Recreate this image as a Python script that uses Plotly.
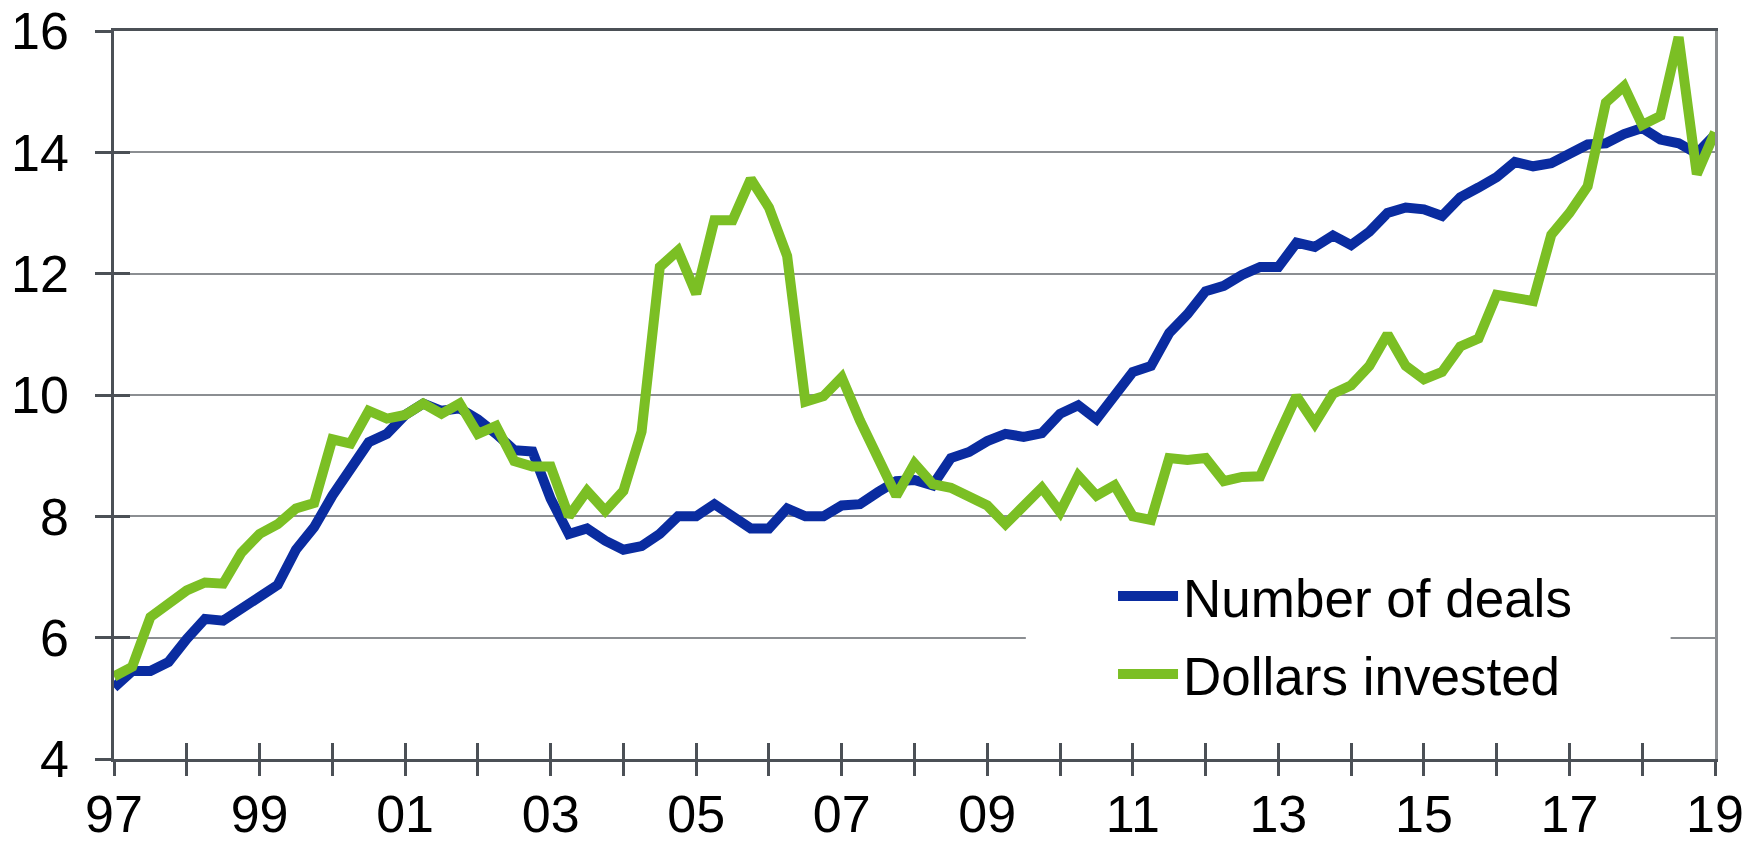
import plotly.graph_objects as go

# quarterly, 1997Q1 .. 2019Q1
deals = [
    5.18, 5.45, 5.45, 5.60,
    5.98, 6.31, 6.28, 6.47,
    6.69, 6.87, 7.45, 7.82,
    8.34, 8.78, 9.22, 9.36,
    9.67, 9.86, 9.74, 9.78,
    9.60, 9.36, 9.09, 9.07,
    8.29, 7.71, 7.80, 7.60,
    7.45, 7.51, 7.71, 8.00,
    8.00, 8.20, 8.00, 7.80,
    7.80, 8.13, 8.00, 8.00,
    8.18, 8.20, 8.40, 8.58,
    8.60, 8.51, 8.96, 9.06,
    9.24, 9.36, 9.31, 9.37,
    9.69, 9.83, 9.60, 9.98,
    10.38, 10.48, 11.02, 11.33,
    11.71, 11.80, 11.98, 12.11,
    12.11, 12.51, 12.44, 12.63,
    12.47, 12.69, 13.00, 13.09,
    13.06, 12.95, 13.26, 13.42,
    13.59, 13.84, 13.77, 13.82,
    13.98, 14.13, 14.15, 14.30,
    14.40, 14.21, 14.15, 13.98,
    14.29,
]

dollars = [
    5.36, 5.52, 6.34, 6.56,
    6.78, 6.91, 6.89, 7.40,
    7.71, 7.87, 8.13, 8.22,
    9.27, 9.20, 9.74, 9.61,
    9.67, 9.86, 9.69, 9.86,
    9.36, 9.49, 8.91, 8.82,
    8.82, 8.00, 8.42, 8.09,
    8.42, 9.40, 12.11, 12.38,
    11.67, 12.88, 12.88, 13.56,
    13.09, 12.29, 9.89, 9.98,
    10.29, 9.58, 9.00, 8.34,
    8.87, 8.53, 8.47, 8.34,
    8.18, 7.87, 8.16, 8.47,
    8.07, 8.67, 8.34, 8.51,
    8.00, 7.94, 8.96, 8.93,
    8.96, 8.58, 8.65, 8.66,
    9.33, 9.98, 9.53, 10.02,
    10.16, 10.48, 11.00, 10.48,
    10.26, 10.38, 10.80, 10.93,
    11.65, 11.60, 11.55, 12.64,
    13.00, 13.44, 14.82, 15.09,
    14.45, 14.60, 15.90, 13.64,
    14.33,
]

years = list(range(1997, 2020))
year_labels = ["97", "", "99", "", "01", "", "03", "", "05", "", "07", "",
               "09", "", "11", "", "13", "", "15", "", "17", "", "19"]
y_ticks = [4, 6, 8, 10, 12, 14, 16]

x = [1997 + i / 4 for i in range(len(deals))]

BLUE = "#0a2ca0"
GREEN = "#7bbf24"
AXIS = "#4b5056"
GRID = "#8b8e92"
FONT = "Liberation Sans, Arial, sans-serif"

fig = go.Figure()
fig.add_trace(go.Scatter(x=x, y=deals, mode="lines", name="Number of deals",
                         legendgroup="deals", line=dict(color=BLUE, width=10)))
fig.add_trace(go.Scatter(x=x, y=dollars, mode="lines", name="Dollars invested",
                         legendgroup="dollars", line=dict(color=GREEN, width=10)))

# white patch where the legend box hides the gridline
fig.add_shape(type="rect", xref="x", yref="y", x0=2009.53, x1=2018.39, y0=5.6, y1=6.4,
              fillcolor="white", line_width=0, layer="above")

tick_style = dict(tickwidth=2.5, tickcolor=AXIS, showgrid=False, zeroline=False,
                  automargin=False)

# page body adds an 8px offset, so the figure is sized to fit inside the window
fig.update_layout(
    width=1745, height=829,
    margin=dict(l=106, r=38, t=23, b=78),
    paper_bgcolor="white", plot_bgcolor="white",
    font=dict(family=FONT, color="black"),
    showlegend=True,
    legend=dict(x=0.624, y=0.28, xanchor="left", yanchor="top",
                bgcolor="white", borderwidth=0, tracegroupgap=6, itemwidth=60,
                font=dict(size=53, family=FONT, color="black")),
    xaxis=dict(range=[1997, 2019], tickvals=years, ticktext=year_labels,
               ticks="outside", ticklen=8, **tick_style,
               showline=True, linecolor=AXIS, linewidth=2.5,
               ticklabelstandoff=0, ticklabeloverflow="allow",
               tickfont=dict(size=52, family=FONT, color="black")),
    yaxis=dict(range=[4, 16], tickvals=y_ticks,
               ticks="outside", ticklen=16, tickwidth=2.5, tickcolor=AXIS,
               showline=True, linecolor=AXIS, linewidth=2.5,
               showgrid=True, gridcolor=GRID, gridwidth=1.5, zeroline=False,
               ticklabelstandoff=16, automargin=False, ticklabeloverflow="allow",
               tickfont=dict(size=52, family=FONT, color="black")),
    # overlay axes: crossing tick marks, plus the right/top frame
    xaxis2=dict(overlaying="x", range=[1997, 2019], tickvals=years, side="bottom",
                ticks="inside", ticklen=16, showticklabels=False, showline=False,
                **tick_style),
    xaxis4=dict(overlaying="x", range=[1997, 2019], tickvals=years, side="bottom",
                ticks="outside", ticklen=16, showticklabels=False, showline=False,
                **tick_style),
    yaxis2=dict(overlaying="y", range=[4, 16], tickvals=y_ticks, side="left",
                ticks="inside", ticklen=16, showticklabels=False, showline=False,
                **tick_style),
    xaxis3=dict(overlaying="x", range=[1997, 2019], side="top",
                showline=True, linecolor=AXIS, linewidth=2.5, automargin=False,
                showticklabels=False, ticks="", showgrid=False, zeroline=False),
    yaxis3=dict(overlaying="y", range=[4, 16], side="right",
                showline=True, linecolor=GRID, linewidth=2.5, automargin=False,
                showticklabels=False, ticks="", showgrid=False, zeroline=False),
)

# empty traces so the overlay axes get drawn
fig.add_trace(go.Scatter(x=[], y=[], xaxis="x2", yaxis="y2", showlegend=False, hoverinfo="skip"))
fig.add_trace(go.Scatter(x=[], y=[], xaxis="x3", yaxis="y3", showlegend=False, hoverinfo="skip"))
fig.add_trace(go.Scatter(x=[], y=[], xaxis="x4", yaxis="y2", showlegend=False, hoverinfo="skip"))

fig.write_html("out.html")
